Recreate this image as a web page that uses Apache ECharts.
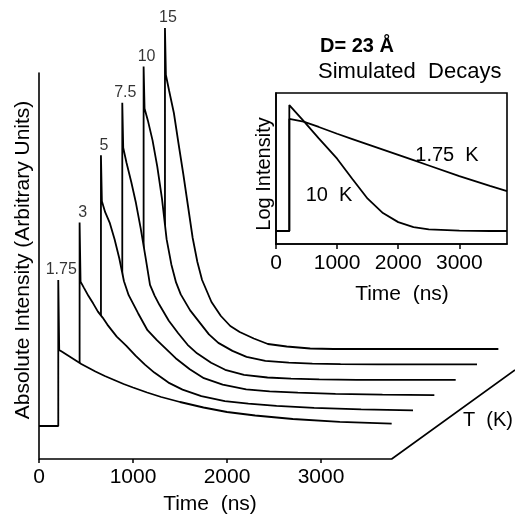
<!DOCTYPE html>
<html>
<head>
<meta charset="utf-8">
<script src="https://cdn.jsdelivr.net/npm/echarts@6/dist/echarts.min.js"></script>
<style>
  html, body { margin: 0; padding: 0; background: #fff; }
  #chart { width: 515px; height: 514px; }
</style>
</head>
<body>
<div id="chart"></div>
<script>
// temperatures (K), front curve first
const TEMPS = ['1.75', '3', '5', '7.5', '10', '15'];

// local time of each decay (ns); rise at 205 ns
const TIME_NS = [0, 205, 205, 215, 250, 300, 350, 400, 450, 500, 550, 600, 700, 800, 900, 1000, 1150, 1300, 1500, 1750, 2000, 2300, 2700, 3200, 3752];

// intensity above each curve's own baseline (arbitrary units)
const I_175 = [0, 0, 146, 76, 74, 71, 68, 65, 62, 59.5, 57, 54.5, 50, 46, 42, 38.5, 33.5, 29, 24, 18.5, 14, 10.5, 7, 4.2, 2.3];
const I_3   = [0, 0, 188, 129, 123, 114.5, 107, 99, 93, 86, 80, 74, 65, 55, 46, 38, 28, 21, 14.5, 9.5, 7, 4.7, 2.8, 1.3, 0.3];
const I_5   = [0, 0, 240, 194, 183, 172, 156, 137, 114, 100, 91, 82, 65, 55, 46, 37, 26, 17, 10.5, 5.8, 3.9, 2.5, 1.3, 0.5, 0];
const I_75  = [0, 0, 277, 232, 217, 198, 177, 152, 124, 95, 84, 75, 59, 46.5, 35, 26.5, 17, 10, 5, 2.3, 1.2, 0.5, 0, 0, 0];
const I_10  = [0, 0, 298, 256, 244, 224, 198, 166, 125, 100, 82, 70, 54, 42, 30, 21.5, 13.5, 7.5, 3.6, 1.8, 0.8, 0.3, 0, 0, 0];
const I_15  = [0, 0, 321, 274, 258, 236, 205, 175, 143, 111, 87, 69, 47, 33, 23, 17, 10.5, 5, 2.5, 0.5, 0, 0, 0, 0, 0];
const CURVES = [I_175, I_3, I_5, I_75, I_10, I_15];

const MAIN_TICKS = [0, 1000, 2000, 3000];

// inset: simulated decays on a log scale
const INSET_T = [0, 218, 218, 450, 700, 1000, 1250, 1500, 1750, 2000, 2250, 2500, 3000, 3500, 3780];
const LOG_175 = [0.86, 0.86, 8.28, 8.1, 7.75, 7.3, 6.95, 6.6, 6.25, 5.9, 5.55, 5.2, 4.5, 3.85, 3.5];
const LOG_10  = [0.86, 0.86, 9.2, 8.15, 7.0, 5.65, 4.3, 3.0, 2.05, 1.45, 1.12, 0.97, 0.88, 0.86, 0.86];

// waterfall layout
const DT = 227;      // ns shift per temperature step
const DY = 15.4;     // intensity shift per step
const BASE0 = 33;    // baseline of the front curve
const T_END = 3752;
const XMAX = 5064;
const RISE = 2;      // index of the peak in TIME_NS

const FONT = 'Liberation Sans';
const chart = echarts.init(document.getElementById('chart'));

const series = [];
// back curves get lower z so the white fill of front curves hides them
for (let k = CURVES.length - 1; k >= 0; k--) {
  series.push({
    type: 'line',
    xAxisIndex: 0, yAxisIndex: 0,
    data: TIME_NS.map((t, i) => [k * DT + t, BASE0 + k * DY + CURVES[k][i]]),
    symbol: 'none',
    clip: false,
    lineStyle: { color: '#000', width: 1.8 },
    areaStyle: { color: '#fff', opacity: 1 },
    z: 3 + (CURVES.length - 1 - k)
  });
}

// floor: time axis then the T axis
series.push({
  type: 'line',
  xAxisIndex: 0, yAxisIndex: 0,
  data: [[0, 0], [T_END, 0], [XMAX, (XMAX - T_END) * DY / DT]],
  symbol: 'none',
  clip: false,
  lineStyle: { color: '#000', width: 1.6 },
  z: 20
});

// temperature labels on the peaks
series.push({
  type: 'scatter',
  xAxisIndex: 0, yAxisIndex: 0,
  symbolSize: 0,
  clip: false,
  data: TEMPS.map((lab, k) => ({
    value: [k * DT + TIME_NS[RISE], BASE0 + k * DY + CURVES[k][RISE]],
    label: { show: true, formatter: lab }
  })),
  label: { position: 'top', distance: 2, offset: [3, 0], color: '#000', fontFamily: FONT, fontSize: 16 },
  z: 21
});

// inset curves
[LOG_175, LOG_10].forEach(arr => {
  series.push({
    type: 'line',
    xAxisIndex: 1, yAxisIndex: 1,
    data: INSET_T.map((t, i) => [t, arr[i]]),
    symbol: 'none',
    lineStyle: { color: '#000', width: 1.8 },
    z: 22
  });
});

const txt = (x, y, text, extra, rot) => ({
  type: 'text', x: x, y: y, z: 100,
  rotation: rot || 0,
  style: Object.assign({ text: text, fill: '#000', font: '20px "' + FONT + '"', textAlign: 'center', textVerticalAlign: 'middle' }, extra || {})
});

const plain = v => String(v);

chart.setOption({
  animation: false,
  backgroundColor: '#fff',
  grid: [
    { left: 39, top: 73, right: 0, bottom: 55 },
    { left: 276, top: 93, width: 231, height: 151, show: true, borderColor: '#000', borderWidth: 1.6, backgroundColor: '#fff' }
  ],
  xAxis: [
    {
      type: 'value', gridIndex: 0, min: 0, max: XMAX,
      axisLine: { show: false },
      axisTick: { show: true, inside: false, length: 4, customValues: MAIN_TICKS, lineStyle: { color: '#000', width: 1.5 } },
      axisLabel: { customValues: MAIN_TICKS, formatter: plain, margin: 8, color: '#000', fontFamily: FONT, fontSize: 21 },
      splitLine: { show: false }
    },
    {
      type: 'value', gridIndex: 1, min: 0, max: 3780,
      axisLine: { show: true, lineStyle: { color: '#000', width: 1.6 } },
      axisTick: { show: true, inside: false, length: 5, customValues: MAIN_TICKS, lineStyle: { color: '#000', width: 1.5 } },
      axisLabel: { customValues: MAIN_TICKS, formatter: plain, margin: 9, color: '#000', fontFamily: FONT, fontSize: 21 },
      splitLine: { show: false }
    }
  ],
  yAxis: [
    {
      type: 'value', gridIndex: 0, min: 0, max: 386, z: 20,
      axisLine: { show: true, lineStyle: { color: '#000', width: 1.6 } },
      axisTick: { show: false }, axisLabel: { show: false }, splitLine: { show: false }
    },
    {
      type: 'value', gridIndex: 1, min: 0, max: 10,
      axisLine: { show: true, lineStyle: { color: '#000', width: 1.6 } },
      axisTick: { show: false }, axisLabel: { show: false }, splitLine: { show: false }
    }
  ],
  series: series,
  graphic: [
    txt(23, 260, 'Absolute Intensity (Arbitrary Units)', { font: '21px "' + FONT + '"' }, Math.PI / 2),
    txt(210, 504, 'Time  (ns)', { font: '21px "' + FONT + '"' }),
    txt(463, 420, 'T  (K)', { textAlign: 'left' }),
    txt(320, 46, 'D= 23 Å', { textAlign: 'left', font: 'bold 20px "' + FONT + '"' }),
    txt(318, 72, 'Simulated  Decays', { textAlign: 'left', font: '22px "' + FONT + '"' }),
    txt(264, 174, 'Log Intensity', null, Math.PI / 2),
    txt(402, 294, 'Time  (ns)', { font: '21px "' + FONT + '"' }),
    txt(447, 155, '1.75  K'),
    txt(329, 195, '10  K')
  ]
});
</script>
</body>
</html>
